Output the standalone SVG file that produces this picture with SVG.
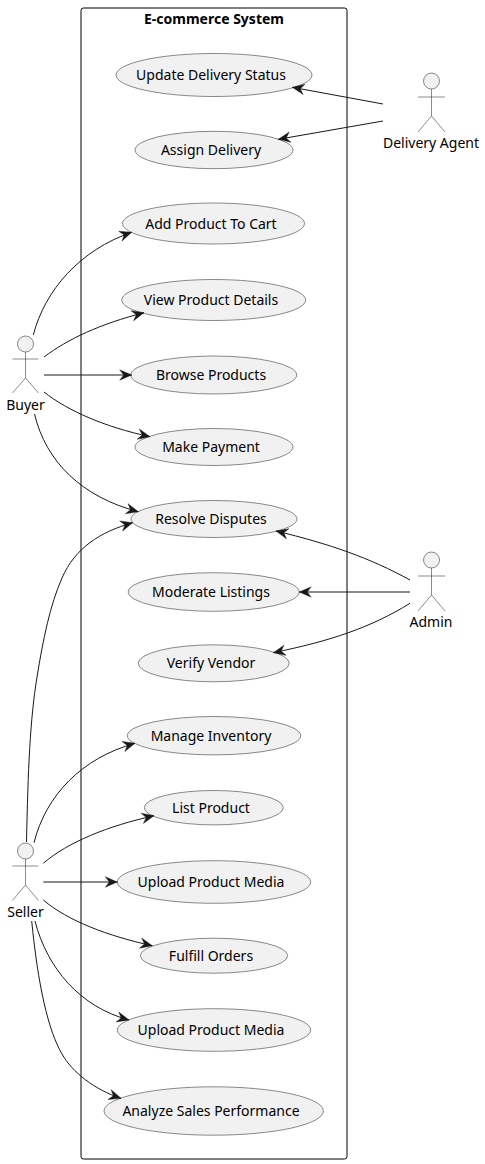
<svg xmlns="http://www.w3.org/2000/svg" width="485" height="1164" viewBox="0 0 485 1164">
<style>
text{font-family:"Noto Sans","Open Sans",sans-serif;font-size:14px;fill:#000;text-anchor:middle}
.t{font-weight:700}
.u{fill:#F1F1F1;stroke:#181818;stroke-width:.5}
.a{fill:none;stroke:#181818;stroke-width:.5}
.c{fill:none;stroke:#181818;stroke-width:1;marker-end:url(#h)}
</style>
<defs><marker id="h" markerUnits="userSpaceOnUse" markerWidth="15" markerHeight="12" refX="13" refY="6" orient="auto"><path d="M13 6L1 .8L5 6L1 11.200Z" fill="#181818" stroke="#181818" stroke-width=".4"/></marker></defs>
<rect width="485" height="1164" fill="#fff"/>
<g id="system"><rect x="81" y="8" width="266" height="1151" rx="2.5" fill="none" stroke="#000" stroke-width="1"/><text class="t" x="214" y="24">E-commerce System</text></g>
<g id="uc-update-delivery"><ellipse class="u" cx="214" cy="75" rx="98" ry="21.500"/><text x="211" y="80">Update Delivery Status</text></g>
<g id="uc-assign-delivery"><ellipse class="u" cx="214" cy="150" rx="79" ry="18.700"/><text x="211" y="155">Assign Delivery</text></g>
<g id="uc-add-cart"><ellipse class="u" cx="213.500" cy="223.500" rx="91" ry="20.500"/><text x="211" y="229">Add Product To Cart</text></g>
<g id="uc-view-details"><ellipse class="u" cx="213.700" cy="300" rx="92" ry="20.500"/><text x="211" y="305">View Product Details</text></g>
<g id="uc-browse"><ellipse class="u" cx="213.700" cy="375" rx="83" ry="19"/><text x="211" y="380">Browse Products</text></g>
<g id="uc-payment"><ellipse class="u" cx="214" cy="447" rx="79" ry="18.500"/><text x="211" y="452">Make Payment</text></g>
<g id="uc-resolve"><ellipse class="u" cx="214" cy="519" rx="83" ry="18.500"/><text x="211" y="524">Resolve Disputes</text></g>
<g id="uc-moderate"><ellipse class="u" cx="213.700" cy="592" rx="85.500" ry="19.300"/><text x="211" y="597">Moderate Listings</text></g>
<g id="uc-verify"><ellipse class="u" cx="213.700" cy="663.300" rx="75.500" ry="18.500"/><text x="211" y="668">Verify Vendor</text></g>
<g id="uc-inventory"><ellipse class="u" cx="214" cy="735.700" rx="86.700" ry="19.200"/><text x="211" y="741">Manage Inventory</text></g>
<g id="uc-list"><ellipse class="u" cx="213.800" cy="807.700" rx="69.500" ry="17.200"/><text x="211" y="813">List Product</text></g>
<g id="uc-upload-1"><ellipse class="u" cx="214" cy="882" rx="96.700" ry="21.300"/><text x="211" y="887">Upload Product Media</text></g>
<g id="uc-fulfill"><ellipse class="u" cx="214" cy="955.700" rx="73.700" ry="17.500"/><text x="211" y="961">Fulfill Orders</text></g>
<g id="uc-upload-2"><ellipse class="u" cx="214" cy="1030" rx="96.700" ry="21.300"/><text x="211" y="1035">Upload Product Media</text></g>
<g id="uc-analyze"><ellipse class="u" cx="213.700" cy="1111" rx="109.700" ry="24.200"/><text x="211" y="1116">Analyze Sales Performance</text></g>
<g id="actor-buyer"><circle class="u" cx="25.500" cy="344" r="8"/><path class="a" d="M25.500 352V378M12.500 359H38.500M25.500 378L12.500 393M25.500 378L38.500 393"/><text x="25.500" y="410">Buyer</text></g>
<g id="actor-seller"><circle class="u" cx="25.500" cy="851" r="8"/><path class="a" d="M25.500 859V885M12.500 866H38.500M25.500 885L12.500 900.500M25.500 885L38.500 900.500"/><text x="25.500" y="917">Seller</text></g>
<g id="actor-delivery"><circle class="u" cx="431.500" cy="81" r="8"/><path class="a" d="M431.500 89V116M418 97H445M431.500 116L418 132M431.500 116L445 132"/><text x="431" y="148">Delivery Agent</text></g>
<g id="actor-admin"><circle class="u" cx="431.500" cy="560" r="8"/><path class="a" d="M431.500 568V595M418 576H445M431.500 595L418 611M431.500 595L445 611"/><text x="431" y="627">Admin</text></g>
<g id="connectors">
<path class="c" d="M383 104L292.300 87.300"/>
<path class="c" d="M383 121L278.300 139.300"/>
<path class="c" d="M33.300 335C45 290 80 250 131.700 232.300"/>
<path class="c" d="M44 357C68 339 100 324 144 312.700"/>
<path class="c" d="M44 375H131.700"/>
<path class="c" d="M44 392C68 411 105 427 150 436.700"/>
<path class="c" d="M34.500 414C46 462 82 497 138.300 511.700"/>
<path class="c" d="M26.500 842C28 770 30 720 37 677C43 640 50 605 62 578C75 548 100 532 132.700 522.700"/>
<path class="c" d="M34 842.700C46 795 82 758 135 743.300"/>
<path class="c" d="M43.300 863.300C68 842 108 826 154 815.700"/>
<path class="c" d="M43.300 882H117.300"/>
<path class="c" d="M43.300 900C68 921 108 936 152.300 945.700"/>
<path class="c" d="M35 921C47 968 80 1007 129 1020"/>
<path class="c" d="M31.700 921C38 985 48 1030 62 1054C72 1072 95 1090 121 1098.300"/>
<path class="c" d="M410 580C370 558 330 544 276 531"/>
<path class="c" d="M410 592H299.200"/>
<path class="c" d="M410 603.300C370 628 330 641 273.300 652.700"/>
</g>
</svg>
